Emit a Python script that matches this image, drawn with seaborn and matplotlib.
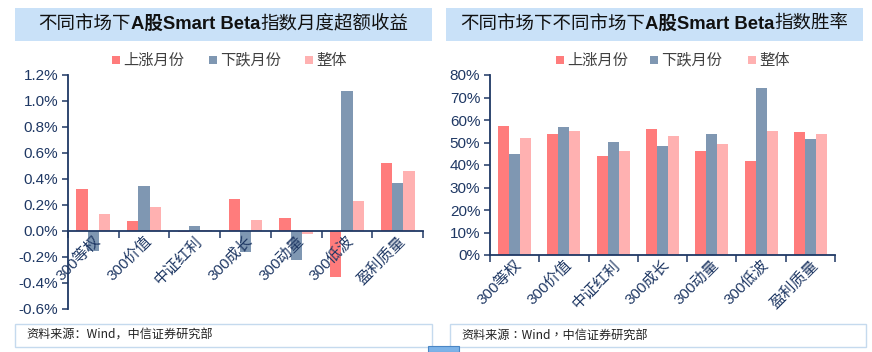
import matplotlib
matplotlib.use("Agg")
import matplotlib.pyplot as plt
import matplotlib.patches as mpatches
from matplotlib.ticker import FuncFormatter, FixedLocator
import seaborn as sns
import pandas as pd
import numpy as np

# ---------------- data ----------------
categories = ["300等权", "300价值", "中证红利", "300成长", "300动量", "300低波", "盈利质量"]
series_names = ["上涨月份", "下跌月份", "整体"]

excess_up = [0.32, 0.077, -0.01, 0.25, 0.10, -0.35, 0.52]
excess_down = [-0.15, 0.35, 0.04, -0.16, -0.22, 1.08, 0.37]
excess_all = [0.13, 0.187, 0.005, 0.085, -0.025, 0.233, 0.46]

win_up = [57.3, 53.6, 44.1, 56.1, 46.4, 41.7, 54.8]
win_down = [44.8, 57.0, 50.1, 48.3, 53.6, 74.2, 51.7]
win_all = [52.1, 54.9, 46.4, 52.9, 49.3, 54.9, 53.6]

left_title = [("不同市场下", "normal"), ("A股Smart Beta", "bold"), ("指数月度超额收益", "normal")]
right_title = [("不同市场下不同市场下", "normal"), ("A股Smart Beta", "bold"), ("指数胜率", "normal")]
source_text = "资料来源：Wind，中信证券研究部"

# ---------------- style ----------------
colors = ["#FF7C7C", "#7F97B2", "#FFB1B1"]
navy = "#1F3864"
sns.set_theme(style="white")
plt.rcParams["font.family"] = ["Liberation Sans", "Noto Sans CJK SC", "DejaVu Sans"]

W, H = 872, 352
fig = plt.figure(figsize=(W / 100, H / 100), dpi=100)
fig.patch.set_facecolor("white")


def fx(x):
    return x / W


def fy(y):
    return 1 - y / H


def make_df(a, b, c):
    rows = []
    for name, vals in zip(series_names, [a, b, c]):
        for cat, v in zip(categories, vals):
            rows.append({"cat": cat, "series": name, "value": v})
    return pd.DataFrame(rows)


def setup_axes(ax, df, ylim, yticks, fmt, zero_axis):
    sns.barplot(data=df, x="cat", y="value", hue="series", order=categories,
                hue_order=series_names, palette=colors, width=0.67,
                saturation=1, ax=ax, legend=False, edgecolor="none")
    ax.set_axisbelow(False)
    ax.set_xlim(-0.5, len(categories) - 0.5)
    ax.set_ylim(*ylim)
    ax.set_xlabel("")
    ax.set_ylabel("")
    ax.yaxis.set_major_locator(FixedLocator(yticks))
    ax.yaxis.set_major_formatter(FuncFormatter(fmt))
    for s in ["top", "right"]:
        ax.spines[s].set_visible(False)
    for s in ["left", "bottom"]:
        ax.spines[s].set_color(navy)
        ax.spines[s].set_linewidth(1.3)
    if zero_axis:
        ax.spines["bottom"].set_position(("data", 0))
    ax.tick_params(axis="y", which="major", direction="out", length=4, width=1.1,
                   color=navy, labelcolor=navy, labelsize=11, pad=3, left=True)
    ax.tick_params(axis="x", which="major", length=0, labelcolor=navy, labelsize=11, pad=2)
    ax.set_xticks(np.arange(-0.5, len(categories) + 0.5, 1), minor=True)
    ax.tick_params(axis="x", which="minor", direction="out", length=5, width=1.1,
                   color=navy, bottom=True)
    ax.set_xticks(range(len(categories)))
    ax.set_xticklabels(categories, rotation=45, ha="right", va="top",
                       rotation_mode="anchor")
    ax.grid(False)
    ax.set_facecolor("white")


# left axes
axL = fig.add_axes([fx(68), fy(309), fx(423 - 68), (309 - 75) / H])
setup_axes(axL, make_df(excess_up, excess_down, excess_all), (-0.6, 1.2),
           np.arange(-0.6, 1.21, 0.2), lambda v, p: f"{v:.1f}%", True)

# right axes
axR = fig.add_axes([fx(490), fy(255), fx(835 - 490), (255 - 75) / H])
setup_axes(axR, make_df(win_up, win_down, win_all), (0, 80),
           np.arange(0, 81, 10), lambda v, p: f"{v:.0f}%", False)

# legends
for ax, xs in [(axL, [112, 209, 305]), (axR, [556, 650, 748])]:
    for x0, name, col in zip(xs, series_names, colors):
        fig.patches.append(mpatches.Rectangle((fx(x0), fy(64)), fx(8), 8 / H,
                                              transform=fig.transFigure,
                                              facecolor=col, edgecolor="none"))
        fig.text(fx(x0 + 11), fy(60), name, fontsize=11, color="#404040",
                 va="center", ha="left", family=["Noto Sans CJK SC"])

# title boxes
for x0, x1 in [(15, 432), (446, 863)]:
    fig.patches.append(mpatches.Rectangle((fx(x0), fy(41)), fx(x1 - x0), 33 / H,
                                          transform=fig.transFigure,
                                          facecolor="#C9E1F8", edgecolor="none"))

renderer = fig.canvas.get_renderer()


def draw_title(parts, cx, cy):
    texts = []
    for s, w in parts:
        t = fig.text(0, fy(cy), s, fontsize=13.3, fontweight=w, color="#111111",
                     va="center", ha="left",
                     family=["Liberation Sans", "Noto Sans CJK SC"] if w == "bold"
                     else ["Noto Sans CJK SC"])
        texts.append(t)
    widths = [t.get_window_extent(renderer).width for t in texts]
    x = cx - sum(widths) / 2
    for t, wd in zip(texts, widths):
        t.set_x(fx(x))
        x += wd


draw_title(left_title, 223, 24)
draw_title(right_title, 654, 24)

# source boxes
for x0, x1, fam in [(15, 432, "Noto Sans CJK SC"), (450, 866, "Noto Sans CJK TC")]:
    fig.patches.append(mpatches.Rectangle((fx(x0), fy(347)), fx(x1 - x0), 23 / H,
                                          transform=fig.transFigure,
                                          facecolor="white", edgecolor="#C5DAEE",
                                          linewidth=1))
    fig.text(fx(x0 + 11), fy(335.5), source_text, fontsize=8.7, color="#222222",
             va="center", ha="left", family=[fam])

# small blue artifact at bottom centre
fig.patches.append(mpatches.Rectangle((fx(428), fy(352)), fx(31), 6 / H,
                                      transform=fig.transFigure,
                                      facecolor="#7DB3E8", edgecolor="#4A86C5",
                                      linewidth=0.8))

fig.savefig("out.png", dpi=100, facecolor="white")
